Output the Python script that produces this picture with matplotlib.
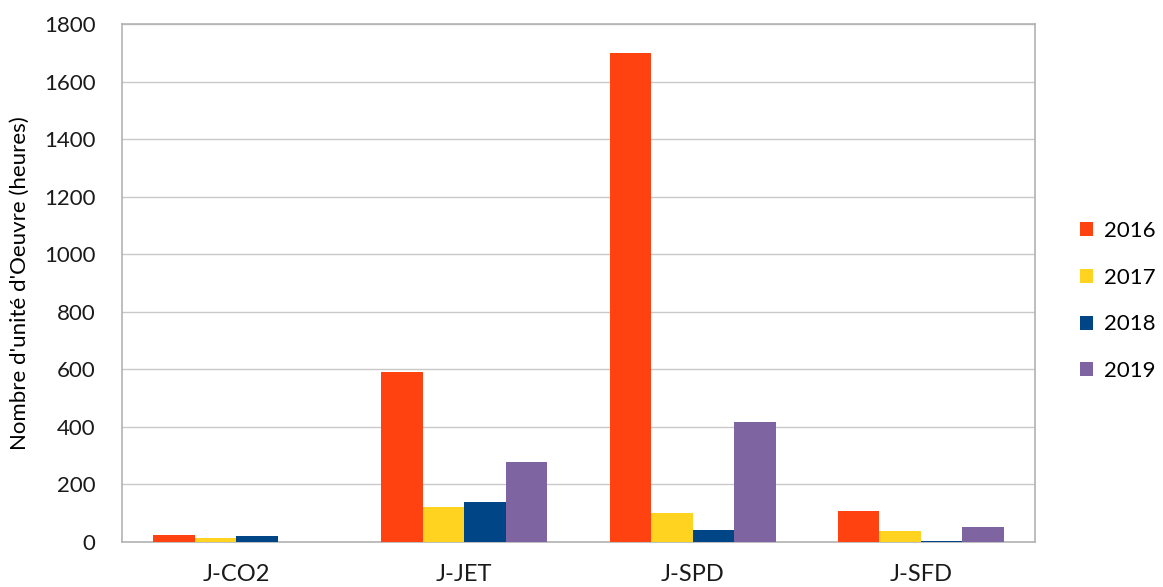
import numpy as np
import matplotlib.pyplot as plt

categories = ["J-CO2", "J-JET", "J-SPD", "J-SFD"]
years = ["2016", "2017", "2018", "2019"]
values_2016 = [24, 590, 1700, 108]
values_2017 = [13, 122, 101, 38]
values_2018 = [20, 139, 42, 5]
values_2019 = [0, 278, 417, 52]
colors = ["#FF4210", "#FFD320", "#004586", "#7E64A0"]

plt.rcParams["font.family"] = ["Lato", "DejaVu Sans"]

fig = plt.figure(figsize=(11.63, 5.87), dpi=100)
ax = fig.add_axes([122 / 1163, 45 / 587, 913 / 1163, 518 / 587])

x = np.arange(len(categories))
width = 0.182
series = [values_2016, values_2017, values_2018, values_2019]
for i, (vals, year, col) in enumerate(zip(series, years, colors)):
    ax.bar(x + (i - 1.5) * width, vals, width, color=col, label=year, zorder=3)

ax.set_xlim(-0.5, len(categories) - 0.5)
ax.set_ylim(0, 1800)
ax.set_yticks(range(0, 1801, 200))
ax.set_xticks(x)
ax.set_xticklabels(categories)
ax.tick_params(axis="both", length=0, labelsize=16, colors="#1a1a1a")
ax.tick_params(axis="x", labelsize=17, pad=16)
ax.tick_params(axis="y", pad=19)
ax.grid(axis="y", color="#c8c8c8", linewidth=1, zorder=0)
for s in ax.spines.values():
    s.set_color("#b3b3b3")
    s.set_linewidth(1.2)
ax.set_ylabel("Nombre d'unité d'Oeuvre (heures)", fontsize=16, labelpad=10)

ax.legend(loc="center left", bbox_to_anchor=(1.027, 0.465), frameon=False,
          fontsize=16, handlelength=0.6, handleheight=0.6, labelspacing=1.2,
          handletextpad=0.5)

fig.savefig("out.png", dpi=100)
